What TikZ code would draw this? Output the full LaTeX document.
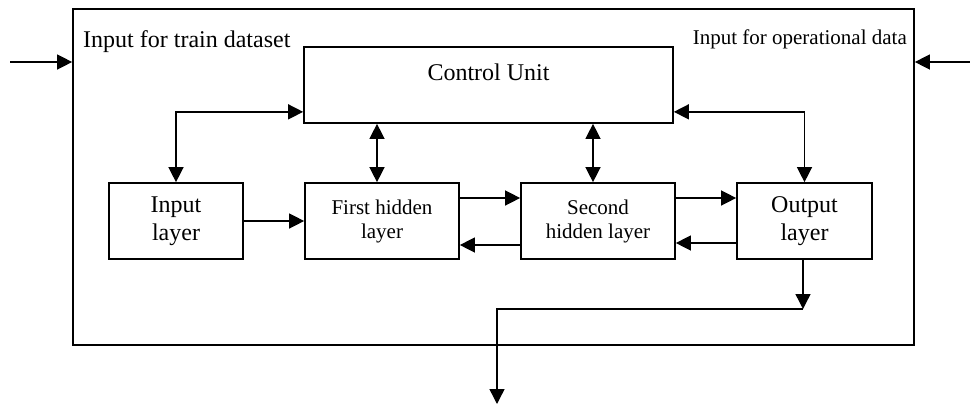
\documentclass[tikz,border=0pt]{standalone}
\usepackage{fontspec}
\setmainfont{Liberation Serif}
\usetikzlibrary{arrows.meta,calc}
\begin{document}
\begin{tikzpicture}[x=1pt,y=-1pt,
  box/.style={draw,line width=1.7pt,inner sep=0pt,minimum height=76pt,align=center},
  big/.style={font=\fontsize{24}{28}\selectfont},
  small/.style={font=\fontsize{21}{24}\selectfont},
  conn/.style={line width=1.4pt,-{Triangle[length=15pt,width=15pt]}},
  dconn/.style={line width=1.4pt,{Triangle[length=15pt,width=15pt]}-{Triangle[length=15pt,width=15pt]}},
  plain/.style={line width=1.4pt}]
\useasboundingbox (0,0) rectangle (970,405);
\node[box,minimum width=841pt,minimum height=336pt] (outer) at (493.5,177) {};
\node[box,minimum width=369pt] (cu) at (488.5,85) {};
\node[big,anchor=base,inner sep=0pt] (cut) at (488.5,80) {Control Unit};
\node[box,big,minimum width=134pt] (inl) at (176,221) {Input\\layer};
\node[box,small,minimum width=154pt] (fh) at (382,221) {First hidden\\layer};
\node[box,small,minimum width=154pt] (sh) at (598,221) {Second\\hidden layer};
\node[box,big,minimum width=135pt] (outl) at (804.5,221) {Output\\layer};
\node[big,anchor=base west,inner sep=0pt] (ttrain) at (83,47) {Input for train dataset};
\node[small,anchor=base east,inner sep=0pt] (topd) at (907,44) {Input for operational data};
% external inputs
\coordinate (lin) at (10,62);
\coordinate (rin) at (970,62);
\draw[conn] (lin) -- (lin -| outer.west);
\draw[conn] (rin) -- (rin -| outer.east);
% control unit links
\draw[dconn] ([yshift=12pt]cu.south west) -| (inl.north);
\draw[dconn] ([yshift=12pt]cu.south east) -| (outl.north);
\draw[dconn] ([xshift=-5pt]fh.north |- cu.south) -- ([xshift=-5pt]fh.north);
\draw[dconn] ([xshift=-5pt]sh.north |- cu.south) -- ([xshift=-5pt]sh.north);
% layer links
\draw[conn] (inl.east) -- (fh.west);
\draw[conn] ([yshift=23pt]fh.east) -- ([yshift=23pt]sh.west);
\draw[conn] ([yshift=-24pt]sh.west) -- ([yshift=-24pt]fh.east);
\draw[conn] ([yshift=23pt]sh.east) -- ([yshift=23pt]outl.west);
\draw[conn] ([yshift=-22pt]outl.west) -- ([yshift=-22pt]sh.east);
% output
\coordinate (bend) at (497,309);
\coordinate (outp) at (497,404);
\draw[conn] ([xshift=-1.5pt]outl.south) -- ([xshift=-1.5pt]outl.south |- bend);
\draw[conn] ([xshift=-1.5pt]outl.south |- bend) -- (bend) -- (outp);
\end{tikzpicture}
\end{document}
